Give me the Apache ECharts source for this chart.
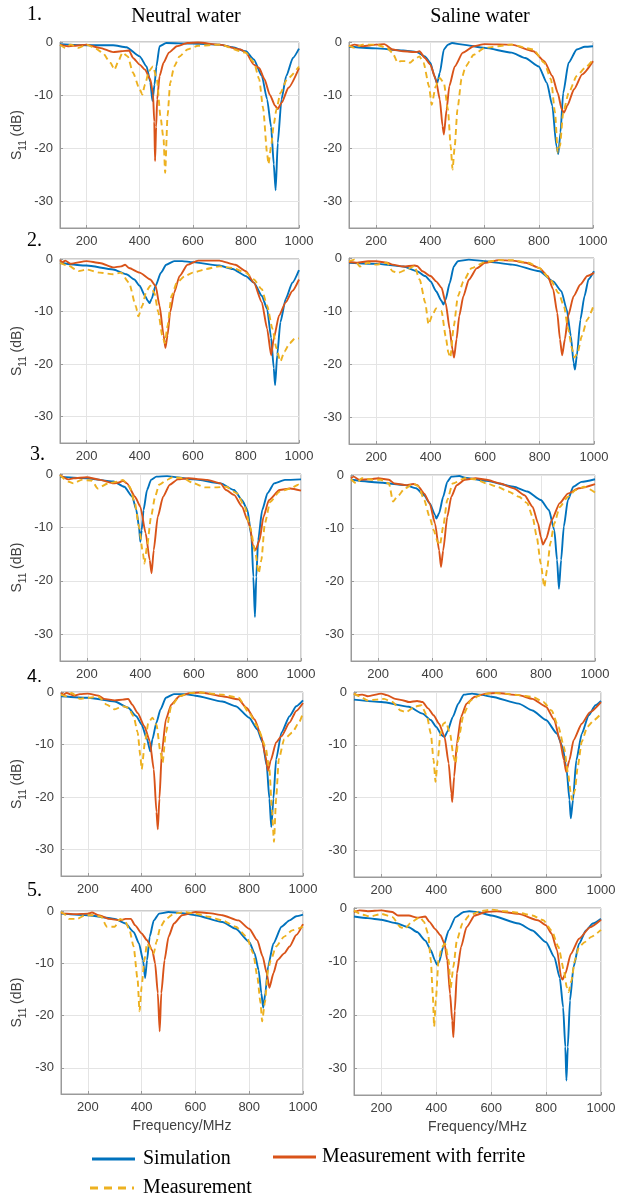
<!DOCTYPE html>
<html>
<head>
<meta charset="utf-8">
<script src="https://cdn.jsdelivr.net/npm/echarts@6/dist/echarts.min.js"></script>
<style>
html,body{margin:0;padding:0;background:#fff;}
#chart{width:617px;height:1201px;}
</style>
</head>
<body>
<div id="chart"></div>
<script>
// ---------- tick labels ----------
const xTicks = [200, 400, 600, 800, 1000];
const yTicks = [0, -10, -20, -30];
const colTitles = ['Neutral water', 'Saline water'];
const rowLabels = ['1.', '2.', '3.', '4.', '5.'];
const seriesNames = ['Simulation', 'Measurement with ferrite', 'Measurement'];

// ---------- data: [frequency MHz, S11 dB] ----------
// Row 1 — neutral water
const n1_sim = [[100,-0.4],[200,-0.6],[300,-0.6],[350,-1],[400,-2.7],[426,-4.6],[440,-7.5],[448,-11.1],[456,-8],[463,-4.6],[475,-0.8],[500,-0.2],[600,-0.3],[700,-0.5],[750,-1],[800,-1.75],[830,-3.3],[860,-6.4],[880,-10.8],[895,-16],[905,-23],[912,-27.9],[920,-19],[934,-10.8],[952,-6.4],[977,-3],[1000,-1.25]];
const n1_fer = [[100,-0.5],[130,-0.8],[150,-0.7],[200,-0.5],[250,-1.1],[300,-1.9],[330,-1.75],[360,-1.6],[375,-3],[400,-4.25],[420,-5.2],[440,-7],[450,-9.6],[455,-15],[458,-22.4],[462,-16],[466,-10.8],[475,-6.4],[490,-3.9],[510,-2],[540,-0.8],[580,-0.2],[620,-0.1],[700,-0.5],[780,-1.4],[800,-2],[830,-4.25],[850,-4.9],[870,-7],[890,-9.9],[910,-12],[920,-12.6],[935,-11.4],[960,-8.6],[1000,-4.9]];
const n1_mea = [[100,-0.5],[120,-1.1],[140,-0.5],[170,-1.1],[200,-0.5],[230,-1.1],[260,-2],[290,-3.9],[305,-5.2],[320,-3.6],[335,-2],[355,-2.7],[375,-5.8],[400,-8.9],[410,-9.9],[420,-8],[435,-5.5],[450,-4.6],[465,-7],[478,-13.9],[490,-18.3],[496,-24.6],[505,-13.9],[515,-7.7],[530,-4.6],[550,-2.7],[580,-1.4],[620,-0.7],[700,-0.5],[800,-2],[830,-3.8],[850,-7],[865,-12.5],[880,-21],[885,-23],[895,-19.6],[905,-15.5],[915,-12.7],[930,-9.6],[955,-7],[1000,-4.6]];
// Row 1 — saline water
const s1_sim = [[100,-0.9],[200,-1.2],[300,-1.6],[350,-1.9],[380,-2.7],[400,-3.9],[415,-6.4],[425,-7.8],[435,-5.8],[450,-1.4],[465,-0.5],[480,-0.2],[520,-0.5],[600,-1.1],[700,-2],[750,-3],[800,-4.6],[830,-7.7],[850,-12],[865,-19.6],[872,-21.1],[880,-17],[890,-9.6],[910,-3.9],[940,-1.4],[970,-0.9],[1000,-0.8]];
const s1_fer = [[100,-0.8],[120,-0.5],[150,-0.8],[200,-0.5],[230,-0.4],[260,-1.4],[300,-1.75],[350,-1.9],[360,-1.75],[380,-3],[400,-4.25],[420,-7],[435,-10.8],[445,-15.8],[450,-17.4],[460,-12.7],[470,-8.3],[490,-4.6],[520,-2],[560,-0.8],[600,-0.4],[700,-0.5],[780,-1.75],[820,-3.6],[850,-6.4],[870,-9.6],[885,-12.7],[893,-13.3],[905,-12],[930,-8.9],[960,-6.1],[1000,-3.6]];
const s1_mea = [[100,-0.7],[120,-1.1],[150,-0.5],[200,-0.5],[240,-1.1],[260,-2],[280,-3.9],[290,-3.6],[310,-3.6],[325,-3.9],[340,-3.3],[360,-2.7],[375,-3.9],[395,-8.3],[405,-11.8],[420,-8.3],[435,-6.75],[450,-7.7],[465,-12.7],[475,-19.6],[482,-24],[490,-19.6],[500,-12.7],[515,-7],[530,-4.6],[560,-2.4],[600,-1.1],[700,-0.5],[780,-1.4],[820,-3.9],[845,-7],[860,-13.3],[870,-20.8],[878,-19.6],[890,-13.3],[910,-9.6],[940,-6.4],[970,-4.9],[1000,-3.3]];
// Row 2 — neutral water
const n2_sim = [[100,-0.75],[200,-1.25],[300,-2],[350,-2.9],[380,-3.9],[400,-5.1],[420,-7],[430,-7.9],[437,-8.4],[445,-7.6],[460,-5.1],[480,-2.6],[500,-1.1],[530,-0.4],[560,-0.4],[600,-0.6],[700,-1.25],[750,-1.9],[800,-3.25],[830,-4.5],[860,-7],[880,-9.5],[895,-15],[905,-20.75],[910,-24],[918,-18.25],[930,-12],[950,-7.6],[975,-4.5],[1000,-2.1]];
const n2_fer = [[100,-0.25],[110,-0.6],[120,-0.3],[140,-0.9],[200,-0.4],[250,-0.75],[300,-1.6],[330,-1.4],[345,-1.1],[360,-1.7],[400,-2.6],[440,-3.9],[460,-5.1],[475,-8.9],[490,-14.5],[497,-16.9],[505,-14.5],[515,-10.1],[530,-6.4],[550,-3.25],[580,-1.1],[620,-0.3],[700,-0.3],[760,-1.1],[800,-2.3],[830,-4.5],[860,-8.25],[880,-13.25],[895,-18.3],[905,-15.1],[925,-10.75],[950,-8.25],[975,-6.1],[1000,-3.9]];
const n2_mea = [[100,-0.75],[130,-1.25],[170,-2.3],[200,-2],[250,-2.6],[300,-2.9],[330,-2.6],[360,-4.5],[385,-8.9],[395,-10.9],[410,-8.9],[425,-6.1],[440,-5.1],[455,-6.4],[470,-10.1],[485,-14.5],[495,-16],[505,-12.7],[520,-7],[540,-4.5],[570,-3.25],[600,-2.6],[650,-1.9],[700,-1.4],[750,-1.7],[800,-2.6],[830,-3.9],[860,-5.75],[880,-8.9],[900,-13.25],[915,-17],[930,-19.5],[945,-17.6],[965,-16],[985,-15.1],[1000,-15.1]];
// Row 2 — saline water
const s2_sim = [[100,-0.9],[200,-1.1],[300,-1.6],[350,-2.5],[380,-3.4],[400,-4.4],[420,-6.25],[440,-8.1],[447,-8.75],[455,-7.8],[470,-4.7],[485,-1.6],[500,-0.6],[540,-0.3],[600,-0.6],[700,-1.25],[800,-2.5],[850,-4.4],[880,-6.25],[900,-9.7],[915,-14.7],[925,-19.7],[930,-21],[937,-18.4],[950,-11.6],[965,-7.2],[980,-4],[1000,-2.5]];
const s2_fer = [[100,-0.75],[130,-0.9],[170,-0.6],[200,-0.6],[240,-0.9],[260,-1.25],[300,-1.6],[340,-1.4],[350,-1.5],[370,-2.5],[400,-3.4],[420,-4.4],[440,-5.6],[455,-8.4],[470,-13.4],[480,-17.2],[486,-18.75],[495,-15.3],[505,-10.9],[520,-7.2],[540,-4.1],[570,-1.9],[600,-0.9],[650,-0.4],[700,-0.5],[750,-0.9],[800,-1.9],[830,-3.4],[850,-5.9],[865,-10.3],[875,-15.3],[883,-18.3],[893,-15.3],[905,-10.9],[925,-7.2],[950,-5],[975,-3.4],[1000,-2.8]];
const s2_mea = [[100,-0.6],[120,-0.3],[140,-1.6],[170,-0.9],[200,-1.25],[240,-0.9],[260,-2.5],[280,-2.8],[320,-2],[340,-1.5],[360,-4.1],[380,-8.4],[392,-12.5],[405,-10.9],[420,-9.5],[440,-10],[455,-14.7],[465,-17.8],[472,-18.75],[485,-12.8],[500,-7.2],[520,-4.4],[550,-1.9],[600,-0.75],[650,-0.4],[700,-0.4],[760,-0.9],[800,-1.9],[840,-4.1],[870,-6.6],[890,-9.1],[905,-13.4],[920,-17.2],[928,-18.75],[940,-17.8],[955,-14.7],[975,-11.6],[1000,-8.75]];
// Row 3 — neutral water
const n3_sim = [[100,-0.5],[200,-0.8],[300,-1.4],[340,-2.4],[370,-4.25],[385,-6.75],[395,-9.9],[400,-12.7],[405,-10.5],[412,-6.75],[425,-3],[440,-1.1],[460,-0.5],[500,-0.4],[600,-1],[700,-1.75],[750,-3],[780,-4.9],[800,-6.75],[815,-11.75],[822,-19.25],[828,-26.75],[833,-19.25],[840,-12.4],[855,-6.75],[875,-3.6],[900,-1.75],[940,-1.1],[1000,-1]];
const n3_fer = [[100,-0.2],[130,-1],[150,-0.8],[200,-0.6],[250,-1.1],[300,-1.75],[320,-1.6],[335,-1.25],[350,-1.75],[380,-4.25],[400,-6.1],[420,-11.1],[435,-16.1],[442,-18.6],[450,-14.25],[465,-8],[485,-4.25],[510,-2],[540,-1],[580,-0.8],[650,-1.1],[700,-1.75],[720,-3],[750,-3.9],[780,-6.1],[800,-8.6],[810,-9.9],[820,-13.3],[830,-14.25],[845,-12.4],[860,-8],[880,-4.9],[920,-3],[960,-2.7],[1000,-3.1]];
const n3_mea = [[100,-0.2],[130,-1.4],[150,-1.75],[180,-1.1],[220,-1.25],[240,-2.7],[280,-1.75],[320,-1.4],[335,-1.1],[360,-2.4],[380,-5.5],[395,-9.9],[410,-14.9],[415,-16.75],[425,-13.6],[440,-8],[455,-4.25],[470,-2],[500,-1.1],[520,-0.6],[560,-0.8],[600,-1.75],[640,-2.5],[680,-2.5],[720,-2.4],[760,-3.6],[790,-6.1],[810,-9.9],[830,-14.9],[842,-18.6],[852,-16.1],[865,-9.25],[885,-5.2],[920,-3.3],[960,-2.7],[990,-2],[1000,-2.4]];
// Row 3 — saline water
const s3_sim = [[100,-0.9],[200,-1.4],[300,-1.9],[340,-2.5],[370,-3.8],[390,-5.3],[410,-7.5],[415,-8.2],[425,-7.2],[440,-4.1],[455,-1.3],[470,-0.3],[500,-0.2],[520,-0.5],[600,-1.1],[700,-2.2],[750,-3.1],[800,-4.7],[830,-6.6],[850,-10.4],[860,-16],[867,-21.4],[875,-16],[885,-9.7],[900,-4.7],[920,-2.2],[950,-1.3],[1000,-0.8]];
const s3_fer = [[100,-0.6],[110,-0.3],[130,-0.9],[170,-0.8],[200,-0.6],[240,-0.9],[260,-1.6],[300,-1.9],[330,-1.7],[345,-1.9],[370,-3.5],[390,-5.3],[410,-9.1],[425,-14.2],[432,-17.3],[440,-14.2],[455,-7.9],[470,-4.1],[490,-1.9],[520,-0.9],[560,-0.6],[600,-0.9],[650,-1.6],[700,-2.5],[740,-3.8],[770,-6],[790,-9.1],[800,-11.6],[808,-13.1],[820,-12],[840,-8.5],[870,-5.3],[900,-3.5],[940,-2.5],[1000,-1.7]];
const s3_mea = [[100,-0.8],[120,-1.6],[140,-0.6],[180,-0.9],[210,-0.9],[240,-1.6],[255,-5],[270,-4.1],[300,-2.5],[330,-1.6],[350,-2.2],[370,-4.7],[390,-7.9],[405,-10.4],[420,-12.6],[428,-13.2],[440,-9.7],[455,-4.7],[475,-1.6],[520,-0.6],[560,-0.8],[600,-1.6],[640,-2.2],[680,-3.1],[720,-4.1],[750,-5.3],[770,-7.9],[785,-11.6],[800,-16.7],[813,-21.1],[823,-17.9],[835,-12.9],[850,-9.1],[870,-6],[900,-4.1],[930,-2.8],[960,-2.2],[1000,-3.3]];
// Row 4 — neutral water
const n4_sim = [[100,-0.8],[200,-1.1],[300,-1.8],[350,-3],[380,-4.6],[400,-6.2],[420,-9],[432,-11.3],[440,-9],[455,-5.8],[470,-3.3],[490,-1.1],[520,-0.4],[560,-0.4],[600,-0.7],[700,-1.8],[750,-2.7],[800,-4.9],[830,-7.1],[850,-9.6],[865,-14],[875,-20.3],[882,-25.7],[890,-20.3],[900,-12.8],[920,-7.7],[950,-4.6],[975,-2.7],[1000,-1.6]];
const n4_fer = [[100,-0.2],[110,-0.5],[120,-0.2],[150,-0.7],[170,-0.4],[200,-0.3],[240,-0.7],[260,-1.3],[300,-1.6],[330,-1.45],[350,-1.3],[365,-2.4],[385,-4],[410,-6.5],[430,-9.3],[445,-14.7],[455,-22.8],[460,-26.1],[466,-20.3],[475,-11.5],[490,-5.2],[510,-2.4],[540,-0.8],[580,-0.2],[620,-0.1],[700,-0.8],[760,-1.4],[790,-3],[820,-5.2],[845,-8.4],[860,-12.1],[870,-15],[880,-13],[900,-9.6],[920,-8.4],[950,-5.8],[975,-3.6],[1000,-2.1]];
const n4_mea = [[100,-0.5],[120,-0.8],[140,-0.2],[170,-1.3],[200,-1.1],[240,-0.9],[270,-2.4],[300,-3.3],[330,-2.7],[350,-3],[370,-4.6],[385,-7.7],[395,-12.1],[400,-14.7],[412,-9.6],[425,-5.8],[440,-4.9],[455,-6.2],[470,-11.5],[478,-13.4],[490,-7.7],[510,-2.7],[540,-0.8],[580,-0.2],[620,-0.1],[700,-0.5],[760,-1.1],[800,-4],[830,-6.5],[860,-10.3],[875,-14.7],[885,-22.8],[892,-28.5],[900,-20.3],[910,-12.8],[930,-9],[960,-7.7],[985,-5.8],[1000,-4]];
// Row 4 — saline water
const s4_sim = [[100,-1.45],[200,-1.9],[300,-2.8],[350,-4.1],[380,-5.3],[400,-6.6],[420,-8.2],[430,-8.5],[440,-7.5],[460,-4.7],[480,-2.2],[500,-0.5],[530,-0.3],[560,-0.5],[600,-0.9],[700,-2.2],[750,-3.5],[800,-5.3],[840,-7.9],[860,-10.4],[875,-14.8],[885,-20.4],[890,-23.9],[898,-20.4],[910,-12.9],[930,-7.9],[955,-4.4],[980,-2.5],[1000,-1.7]];
const s4_fer = [[100,-0.3],[110,-0.6],[130,-0.5],[150,-0.8],[200,-0.3],[220,-0.6],[250,-1.3],[280,-1.6],[300,-1.9],[330,-1.7],[350,-1.9],[370,-3.1],[390,-4.4],[410,-6],[430,-8.5],[445,-13.5],[455,-19.2],[458,-20.8],[465,-16],[475,-9.7],[490,-4.7],[510,-2.2],[540,-0.9],[580,-0.3],[620,-0.2],[700,-0.6],[750,-1.3],[800,-2.8],[830,-5.3],[850,-9.1],[865,-12.9],[873,-15.1],[885,-12.9],[900,-9.1],[930,-6],[960,-3.8],[1000,-1.9]];
const s4_mea = [[100,-0.3],[120,-0.8],[150,-1.6],[180,-1.45],[210,-1.3],[240,-1.9],[270,-3.5],[290,-3.8],[320,-2.8],[345,-2.5],[365,-4.4],[380,-7.9],[390,-12.9],[397,-17],[405,-12.9],[415,-7.9],[425,-6],[435,-5.7],[450,-7.9],[463,-12.3],[470,-13.5],[480,-9.1],[500,-4.1],[525,-1.6],[560,-0.6],[600,-0.2],[650,-0.3],[700,-0.6],[750,-0.9],[790,-1.9],[820,-3.5],[845,-6.6],[865,-10.4],[880,-15.4],[890,-19.2],[895,-20.4],[905,-18.6],[915,-14.2],[930,-9.4],[950,-6.6],[975,-5.3],[1000,-4.1]];
// Row 5 — neutral water
const n5_sim = [[100,-0.5],[200,-0.8],[300,-1.5],[340,-2.4],[370,-4],[390,-6.2],[405,-9.4],[413,-12.8],[420,-9.4],[430,-4.9],[445,-1.8],[465,-0.5],[500,-0.2],[550,-0.4],[600,-0.8],[700,-2.1],[750,-3.4],[800,-5.9],[820,-8.1],[835,-11.3],[845,-15.7],[852,-18.5],[860,-15.7],[870,-10.6],[890,-6.2],[920,-3],[950,-1.8],[975,-1],[1000,-0.7]];
const n5_fer = [[100,-0.4],[120,-0.5],[150,-0.6],[200,-0.5],[215,-0.3],[240,-0.8],[280,-1.5],[320,-1.8],[340,-1.5],[360,-1.5],[375,-2.7],[400,-4.3],[420,-5.6],[440,-7.6],[450,-10],[460,-15.7],[467,-23],[473,-15.7],[485,-9.4],[500,-4.9],[520,-2.4],[550,-0.8],[600,-0.2],[650,-0.4],[700,-0.8],[760,-1.8],[800,-3.4],[830,-5.6],[850,-8.7],[865,-11.9],[875,-14.7],[890,-11.9],[905,-9.4],[930,-8.1],[950,-6.8],[975,-4.6],[1000,-2.5]];
const n5_mea = [[100,-0.2],[110,-0.5],[130,-1.5],[160,-1.5],[190,-0.8],[220,-0.8],[250,-1.1],[270,-3],[300,-3],[320,-1.5],[340,-2.1],[355,-3.7],[370,-6.8],[385,-13.2],[392,-19.2],[400,-14.4],[410,-9.4],[420,-6.2],[435,-7.2],[445,-8.1],[455,-5.9],[470,-3],[490,-1.5],[520,-0.5],[560,-0.2],[600,-0.5],[650,-1.1],[700,-1.8],[750,-3],[790,-4.9],[815,-8.1],[830,-12.5],[842,-17.6],[848,-21.1],[858,-17.6],[870,-11.3],[880,-9.4],[900,-6.8],[930,-4.9],[960,-3.7],[1000,-3]];
// Row 5 — saline water
const s5_sim = [[100,-1.6],[150,-1.9],[200,-2.2],[250,-2.8],[300,-3.6],[330,-4.5],[360,-6.1],[380,-7.9],[395,-9.8],[402,-10.6],[410,-10.1],[425,-7.3],[445,-4.2],[470,-1.7],[500,-0.75],[520,-0.6],[550,-0.75],[600,-1.4],[700,-2.9],[750,-4.2],[800,-6.4],[830,-9.2],[850,-13.1],[862,-18.6],[870,-26],[874,-32.3],[879,-26],[887,-17.3],[900,-11],[920,-6.7],[945,-4.2],[970,-2.9],[1000,-2]];
const s5_fer = [[100,-0.75],[120,-0.45],[150,-0.6],[200,-0.45],[240,-0.75],[260,-1.4],[300,-1.4],[330,-1.8],[360,-1.6],[375,-2.6],[395,-3.9],[415,-5.1],[430,-6.7],[440,-9.8],[450,-16.1],[458,-21.1],[462,-24.2],[467,-19.3],[475,-12.2],[490,-7.3],[510,-3.6],[540,-1.4],[580,-0.75],[620,-0.6],[700,-1.1],[770,-2.3],[800,-3.25],[820,-4.8],[840,-7.9],[855,-13],[860,-13.4],[870,-12.3],[890,-8.6],[920,-5.75],[960,-3.6],[1000,-2.2]];
const s5_mea = [[100,-0.45],[130,-1.25],[160,-1.6],[200,-1.1],[240,-1.7],[270,-3.6],[285,-3.9],[310,-2.6],[340,-1.7],[355,-2.6],[370,-4.8],[380,-9.8],[387,-16.1],[392,-22.2],[398,-17.3],[408,-9.8],[420,-7.3],[432,-6.7],[445,-9.8],[452,-15],[462,-11],[475,-6],[495,-2.9],[520,-1.4],[560,-0.6],[600,-0.3],[650,-0.6],[700,-0.9],[750,-1.4],[790,-2.3],[820,-4.2],[845,-7.3],[865,-11.7],[875,-14.8],[882,-15.75],[892,-13.6],[905,-9.8],[920,-7.3],[940,-6.4],[965,-5.4],[1000,-4.1]];

const panelData = [
  [n1_sim, n1_fer, n1_mea], [s1_sim, s1_fer, s1_mea],
  [n2_sim, n2_fer, n2_mea], [s2_sim, s2_fer, s2_mea],
  [n3_sim, n3_fer, n3_mea], [s3_sim, s3_fer, s3_mea],
  [n4_sim, n4_fer, n4_mea], [s4_sim, s4_fer, s4_mea],
  [n5_sim, n5_fer, n5_mea], [s5_sim, s5_fer, s5_mea]
];

// ---------- layout / style ----------
const LAYOUT = [
  {l:60,t:42,w:239,h:186},  {l:349,t:42,w:244,h:186},
  {l:60,t:259,w:239,h:184}, {l:349,t:258,w:245,h:186},
  {l:60,t:474,w:241,h:187}, {l:351,t:475,w:244,h:186},
  {l:61,t:692,w:242,h:184}, {l:354,t:692,w:247,h:185},
  {l:61,t:911,w:242,h:183}, {l:354,t:908,w:247,h:187}
];
const COLORS = ['#0072BD', '#D95319', '#EDB120'];
const AX = '#9a9a9a', GRID = '#e4e4e4', TXT = '#404040';
const SANS = 'Liberation Sans, Arial, sans-serif';
const SERIF = 'Liberation Serif, Times New Roman, serif';

const grids = [], xAxes = [], yAxes = [], series = [], graphics = [];
LAYOUT.forEach((p, i) => {
  grids.push({left:p.l, top:p.t, width:p.w, height:p.h, show:true, borderColor:AX, borderWidth:1,
              backgroundColor:'#fff', outerBoundsMode:'none', containLabel:false});
  const lastRow = i >= 8;
  xAxes.push({
    type:'value', gridIndex:i, min:100, max:1000, splitNumber:5,
    axisLine:{show:true, onZero:false, lineStyle:{color:AX}},
    axisTick:{show:true, inside:true, length:3, lineStyle:{color:AX}},
    axisLabel:{color:TXT, fontFamily:SANS, fontSize:13, margin:7, showMinLabel:false,
               formatter: v => xTicks.includes(v) ? String(v) : ''},
    splitLine:{show:true, lineStyle:{color:GRID, width:1}},
    name: lastRow ? 'Frequency/MHz' : '', nameLocation:'middle', nameGap:25,
    nameTextStyle:{color:TXT, fontFamily:SANS, fontSize:14}
  });
  yAxes.push({
    type:'value', gridIndex:i, min:-35, max:0,
    axisLine:{show:true, lineStyle:{color:AX}},
    axisTick:{show:true, inside:true, length:3, lineStyle:{color:AX}},
    axisLabel:{color:TXT, fontFamily:SANS, fontSize:13, margin:7, showMinLabel:false,
               formatter: v => yTicks.includes(v) ? String(v) : ''},
    splitLine:{show:true, lineStyle:{color:GRID, width:1}}
  });
  [0, 1, 2].forEach(k => {
    series.push({
      type:'line', name:seriesNames[k], xAxisIndex:i, yAxisIndex:i,
      data: panelData[i][k], showSymbol:false, smooth:0.2, smoothMonotone:'x',
      lineStyle:{color:COLORS[k], width:1.9, type: k === 2 ? [6, 4] : 'solid'},
      itemStyle:{color:COLORS[k]}, z: 3 + k, silent:true, animation:false
    });
  });
  if (i % 2 === 0) {
    graphics.push({
      type:'text', x:19, y:p.t + p.h / 2, rotation:Math.PI / 2,
      style:{text:'{n|S}{sub|11}{n| (dB)}', align:'center', verticalAlign:'middle',
             rich:{n:{fontSize:14, fontFamily:SANS, fill:TXT, lineHeight:18, verticalAlign:'top'},
                   sub:{fontSize:10, fontFamily:SANS, fill:TXT, lineHeight:18, verticalAlign:'bottom'}}}
    });
  }
});

// titles and row numbers
graphics.push({type:'text', x:186, y:17, style:{text:colTitles[0], font:'20px ' + SERIF, fill:'#000', align:'center', verticalAlign:'middle'}});
graphics.push({type:'text', x:480, y:17, style:{text:colTitles[1], font:'20px ' + SERIF, fill:'#000', align:'center', verticalAlign:'middle'}});
const rowPos = [[27,15], [27,241], [30,455], [27,677], [27,891]];
rowLabels.forEach((t, r) => {
  const f = r === 3 ? '18px ' + SANS : '20px ' + SERIF;
  graphics.push({type:'text', x:rowPos[r][0], y:rowPos[r][1], style:{text:t, font:f, fill:'#000', align:'left', verticalAlign:'middle'}});
});

// legend
const leg = [
  {x1:92, x2:135, y:1159, tx:143, k:0},
  {x1:273, x2:316, y:1157, tx:322, k:1},
  {x1:90, x2:134, y:1188, tx:143, k:2}
];
leg.forEach(L => {
  graphics.push({type:'line', shape:{x1:L.x1, y1:L.y, x2:L.x2, y2:L.y},
    style:{stroke:COLORS[L.k], lineWidth:3, lineDash: L.k === 2 ? [8, 6] : null}});
  graphics.push({type:'text', x:L.tx, y:L.y, style:{text:seriesNames[L.k], font:'20px ' + SERIF, fill:'#000', align:'left', verticalAlign:'middle'}});
});

const chart = echarts.init(document.getElementById('chart'), null, {renderer:'canvas'});
chart.setOption({
  animation:false,
  backgroundColor:'#fff',
  grid:grids, xAxis:xAxes, yAxis:yAxes, series:series, graphic:graphics
});
</script>
</body>
</html>
